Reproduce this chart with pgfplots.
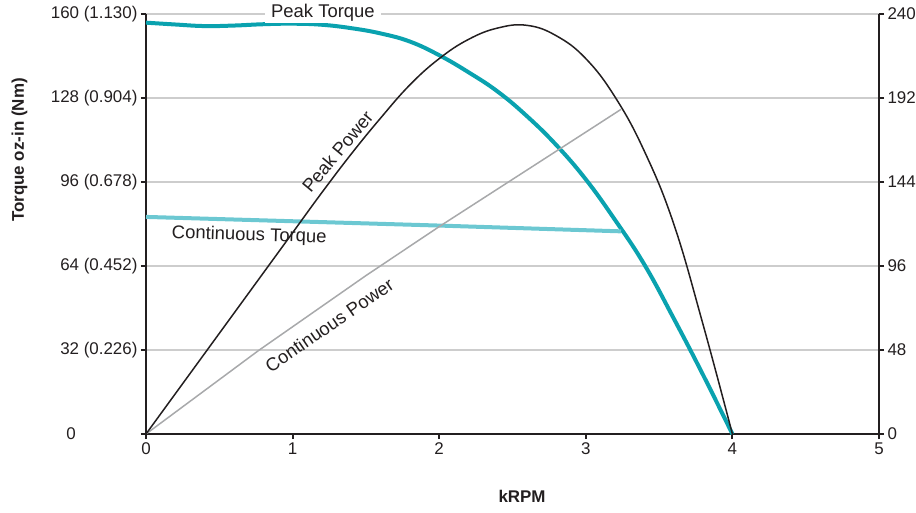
\documentclass[border=0pt]{standalone}
\usepackage{pgfplots}
\pgfplotsset{compat=1.18}
\usepackage{fontspec}
\setmainfont{Liberation Sans}

\definecolor{peakteal}{HTML}{0AA2AF}
\definecolor{contteal}{HTML}{6CC8D2}
\definecolor{contgray}{HTML}{A8A9AB}
\definecolor{gridgray}{HTML}{CDCDCD}
\definecolor{ink}{HTML}{231F20}

\newcommand\annfont{\fontsize{18.5}{22}\selectfont}

\begin{document}
\begin{tikzpicture}
  % torque side (left axis, oz-in)
  \begin{axis}[
      scale only axis, width=733bp, height=420bp,
      xmin=0, xmax=5, ymin=0, ymax=160,
      axis x line*=bottom, axis y line*=left,
      axis line style={-, line width=2bp, ink},
      xtick={0,1,2,3,4,5}, ytick={0,32,64,96,128,160},
      yticklabels={\makebox[71bp][l]{0}, 32 (0.226), 64 (0.452), 96 (0.678), 128 (0.904), 160 (1.130)},
      tick align=outside, major tick length=5bp,
      tick style={line width=2bp, ink},
      ymajorgrids, grid style={gridgray, line width=1.5bp},
      tick label style={font=\fontsize{17}{20}\selectfont, text=ink},
      /pgf/number format/assume math mode=true,
      xlabel={kRPM}, ylabel={Torque oz-in (Nm)},
      label style={font=\fontsize{17}{20}\selectfont\bfseries, text=ink},
      xlabel style={at={(axis description cs:0.513,-0.148)}, anchor=center},
      ylabel style={at={(axis description cs:-0.1726,0.676)}, anchor=center},
      clip=false,
    ]
    % Peak Torque
    \addplot[peakteal, line width=4bp, smooth, tension=0.7] coordinates {
      (0,156.7) (0.2,156.0) (0.4,155.4) (0.6,155.6) (0.8,156.1) (1.0,156.3)
      (1.2,155.9) (1.4,154.6) (1.6,152.6) (1.8,149.5) (2.0,144.3) (2.2,137.8)
      (2.4,130.4) (2.6,121.0) (2.8,110.0) (3.0,97.0) (3.2,81.5) (3.4,64.5)
      (3.6,44.0) (3.8,22.5) (4.0,0)
    };
    % Continuous Torque
    \addplot[contteal, line width=4bp] coordinates {
      (0,82.7) (2.0,79.4) (3.24,77.2)
    };
    \coordinate (bl) at (rel axis cs:0,0);
    \coordinate (tr) at (rel axis cs:1,1);
    \node[fill=white, inner xsep=6bp, inner ysep=1bp, text=ink, font=\annfont]
      at (axis cs:1.207,160.4) {Peak Torque};
    \node[rotate=50.3, text=ink, font=\annfont] at (axis cs:1.306,107.6) {Peak Power};
    \node[rotate=-1.7, text=ink, font=\annfont] at (axis cs:0.704,75.5) {Continuous Torque};
    \node[rotate=34.4, text=ink, font=\annfont] at (axis cs:1.25,41.5) {Continuous Power};
  \end{axis}
  % power side (right axis)
  \begin{axis}[
      scale only axis, width=733bp, height=420bp,
      xmin=0, xmax=5, ymin=0, ymax=240,
      axis x line=none, axis y line*=right,
      axis line style={-, line width=2bp, ink},
      ytick={0,48,96,144,192,240},
      tick align=outside, major tick length=5bp,
      tick style={line width=2bp, ink},
      tick label style={font=\fontsize{17}{20}\selectfont, text=ink},
      /pgf/number format/assume math mode=true,
    ]
    % Continuous Power
    \addplot[contgray, line width=1.5bp] coordinates {
      (0,0) (0.766,47.6) (1.5,90.5) (2.0,118.5) (2.5,145.5) (3.0,172.5) (3.24,185.5)
    };
    % Peak Power
    \addplot[ink, line width=1.5bp, smooth, tension=0.7] coordinates {
      (0,0) (0.2,23) (0.4,46) (0.6,69) (0.8,92) (1.0,115) (1.2,138) (1.4,160)
      (1.6,180.5) (1.8,199.5) (2.0,214.5) (2.2,225.5) (2.4,232) (2.6,233.5)
      (2.8,227.5) (3.0,214.5) (3.2,192.5) (3.4,161.5) (3.6,120) (3.8,62.5) (4.0,0)
    };
  \end{axis}
  \pgfresetboundingbox
  \path ([shift={(-146bp,-79bp)}]bl) rectangle ([shift={(37bp,14bp)}]tr);
\end{tikzpicture}
\end{document}
